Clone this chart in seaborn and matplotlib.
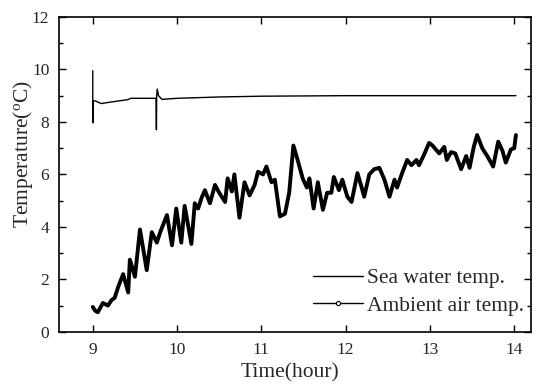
import matplotlib
matplotlib.use("Agg")
import matplotlib.pyplot as plt
from matplotlib.lines import Line2D
from matplotlib.ticker import MultipleLocator
import numpy as np
import pandas as pd
import seaborn as sns

# sea water temperature (hour, degC)
sea_hour = [9.0, 9.0, 9.0, 9.03, 9.1, 9.2, 9.35, 9.42, 9.45, 9.6, 9.75,
            9.755, 9.758, 9.765, 9.78, 9.82, 10.0, 10.5, 11.0, 12.0, 13.0, 14.02]
sea_temp = [9.95, 7.97, 8.8, 8.8, 8.7, 8.75, 8.82, 8.85, 8.9, 8.9, 8.9,
            7.7, 9.0, 9.25, 9.0, 8.86, 8.9, 8.95, 8.98, 9.0, 9.0, 9.0]

# ambient air temperature (hour, degC)
air_hour = [9.0, 9.03, 9.06, 9.12, 9.18, 9.22, 9.26, 9.3, 9.36, 9.42, 9.44,
            9.5, 9.56, 9.64, 9.7, 9.76, 9.8, 9.88, 9.94, 9.99, 10.05, 10.09,
            10.17, 10.21, 10.25, 10.29, 10.33, 10.39, 10.45, 10.5, 10.57, 10.6,
            10.65, 10.68, 10.74, 10.8, 10.86, 10.92, 10.96, 11.02, 11.06, 11.12,
            11.16, 11.22, 11.28, 11.33, 11.38, 11.43, 11.49, 11.54, 11.57, 11.62,
            11.67, 11.73, 11.78, 11.83, 11.86, 11.92, 11.96, 12.02, 12.07, 12.14,
            12.19, 12.22, 12.28, 12.34, 12.4, 12.46, 12.52, 12.58, 12.61, 12.67,
            12.73, 12.78, 12.84, 12.87, 12.93, 12.99, 13.03, 13.11, 13.17, 13.2,
            13.25, 13.3, 13.37, 13.43, 13.47, 13.52, 13.56, 13.62, 13.68, 13.75,
            13.81, 13.86, 13.9, 13.96, 14.0, 14.02]
air_temp = [0.95, 0.8, 0.75, 1.1, 1.0, 1.2, 1.3, 1.7, 2.2, 1.5, 2.75,
            2.1, 3.9, 2.35, 3.8, 3.4, 3.8, 4.45, 3.3, 4.7, 3.4, 4.8,
            3.35, 4.9, 4.7, 5.1, 5.4, 4.9, 5.6, 5.3, 4.95, 5.85,
            5.35, 6.0, 4.35, 5.7, 5.2, 5.6, 6.1, 6.0, 6.3, 5.7,
            5.8, 4.4, 4.5, 5.3, 7.1, 6.55, 5.85, 5.5, 5.85, 4.7,
            5.7, 4.65, 5.3, 5.3, 5.9, 5.4, 5.8, 5.15, 4.95, 6.05,
            5.5, 5.15, 6.0, 6.2, 6.25, 5.8, 5.15, 5.8, 5.5, 6.05,
            6.55, 6.35, 6.55, 6.35, 6.75, 7.2, 7.1, 6.8, 7.05, 6.55,
            6.85, 6.8, 6.2, 6.7, 6.25, 7.05, 7.5, 7.0, 6.7, 6.3,
            7.25, 6.9, 6.45, 6.95, 7.0, 7.5]

sea = pd.DataFrame({"hour": sea_hour, "temp": sea_temp})
air = pd.DataFrame({"hour": air_hour, "temp": air_temp})

sns.set_style("ticks")
plt.rcParams["font.family"] = ["Liberation Serif", "DejaVu Serif"]
plt.rcParams["mathtext.fontset"] = "custom"
plt.rcParams["mathtext.rm"] = "Liberation Serif"

fig = plt.figure(figsize=(5.37, 3.85), dpi=100)
ax = fig.add_axes([0.11, 0.138, 0.879, 0.818])

sns.lineplot(data=sea, x="hour", y="temp", sort=False, estimator=None,
             color="black", lw=1.0, ax=ax)
sns.lineplot(data=air, x="hour", y="temp", sort=False, estimator=None,
             color="black", lw=2.8, ax=ax)

ax.set_xlim(8.6, 14.2)
ax.set_ylim(0, 12)
ax.xaxis.set_major_locator(MultipleLocator(1))
ax.yaxis.set_major_locator(MultipleLocator(2))
ax.yaxis.set_minor_locator(MultipleLocator(1))
ax.tick_params(which="both", direction="in", top=True, right=True,
               labelsize=12.5, width=1, color="black")
ax.tick_params(which="major", length=5, pad=7)
ax.tick_params(which="minor", length=3)
for s in ax.spines.values():
    s.set_linewidth(1.2)
    s.set_color("black")

ax.set_xlabel("Time(hour)", fontsize=15.5)
ax.set_ylabel(r"Temperature($\mathregular{^{o}}$C)", fontsize=15.5)
ax.xaxis.set_label_coords(0.49, -0.1)
ax.yaxis.set_label_coords(-0.052, 0.565)

handles = [Line2D([], [], color="black", lw=1),
           Line2D([], [], color="black", lw=1, marker="o", ms=3,
                  mfc="white", mec="black", mew=0.8)]
ax.legend(handles, ["Sea water temp.", "Ambient air temp."], loc="lower right",
          frameon=False, fontsize=15.5, handlelength=2.3, handletextpad=0.2,
          numpoints=1, borderaxespad=0.2, labelspacing=0.35,
          bbox_to_anchor=(1.012, 0.01))

fig.savefig("out.png", dpi=100)
